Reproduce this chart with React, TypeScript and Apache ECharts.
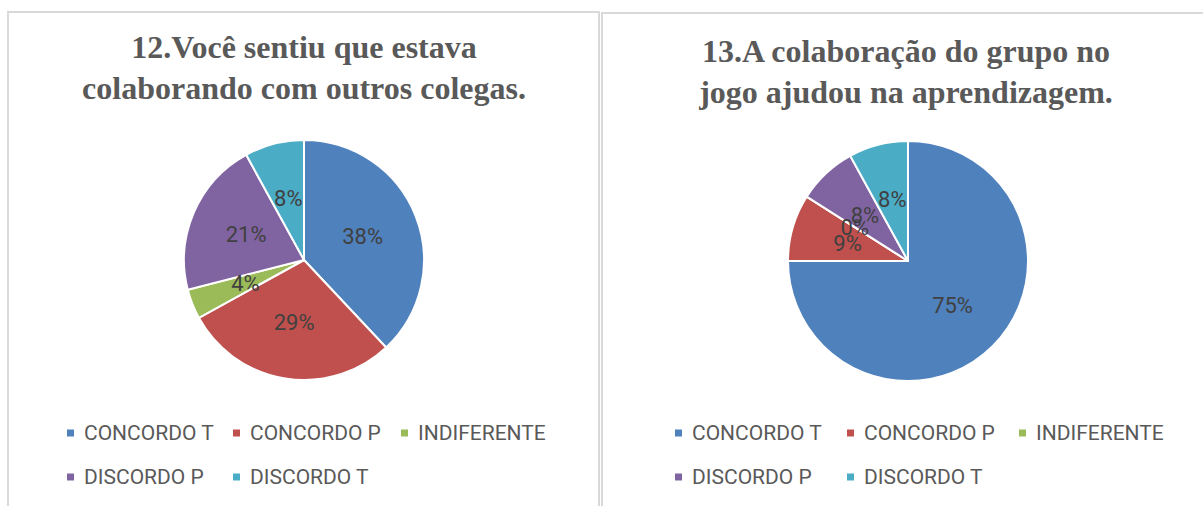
import React, { useEffect, useRef } from "react";
import * as echarts from "echarts";

const categories = ["CONCORDO T", "CONCORDO P", "INDIFERENTE", "DISCORDO P", "DISCORDO T"];
const colors = ["#4F81BD", "#C0504D", "#9BBB59", "#8064A2", "#4BACC6"];
const valuesQ12 = [38, 29, 4, 21, 8];
const valuesQ13 = [75, 9, 0, 8, 8];
const titleQ12 = "12.Você sentiu que estava\ncolaborando com outros colegas.";
const titleQ13 = "13.A colaboração do grupo no\njogo ajudou na aprendizagem.";

const SANS = "Roboto, 'Open Sans', sans-serif";
const SERIF = "'Liberation Serif', 'Times New Roman', serif";

// legend item slots: [column x, row y] for left and right panels
const legendColsLeft = [65, 231, 399];
const legendColsRight = [673, 845, 1017];
const legendRows = [421, 465];

function makeLegendItem(left: number, top: number, name: string) {
  return {
    left,
    top,
    padding: 0,
    orient: "horizontal",
    icon: "rect",
    itemWidth: 9,
    itemHeight: 9,
    selectedMode: false,
    data: [name],
    textStyle: {
      fontFamily: SANS,
      fontSize: 21,
      color: "#595959",
      padding: [0, 0, 0, 4],
      lineHeight: 24,
    },
  };
}

function makeLegends(cols: number[]) {
  return categories.map((c, i) => {
    const row = i < 3 ? 0 : 1;
    const col = i < 3 ? i : i - 3;
    return makeLegendItem(cols[col], legendRows[row], c);
  });
}

function makePie(name: string, values: number[], center: [number, number]) {
  return {
    type: "pie",
    name,
    center,
    radius: 120,
    startAngle: 90,
    clockwise: true,
    silent: true,
    avoidLabelOverlap: false,
    minShowLabelAngle: -1,
    labelLayout: { hideOverlap: false },
    itemStyle: { borderColor: "#ffffff", borderWidth: 2 },
    label: {
      show: true,
      position: "inside",
      formatter: (p: any) => `${values[p.dataIndex]}%`,
      fontFamily: SANS,
      fontSize: 22,
      color: "#404040",
    },
    labelLine: { show: false },
    emphasis: { disabled: true },
    data: categories.map((c, i) => ({
      name: c,
      value: values[i],
      itemStyle: { color: colors[i] },
      label: { show: true },
    })),
  };
}

export default function App() {
  const ref = useRef<HTMLDivElement>(null);
  useEffect(() => {
    document.body.style.margin = "0";
    const chart = echarts.init(ref.current!, undefined, { renderer: "svg" });
    chart.setOption({
      animation: false,
      backgroundColor: "#ffffff",
      title: [
        {
          text: titleQ12,
          left: 304,
          top: 26,
          textAlign: "center",
          padding: 0,
          textStyle: { fontFamily: SERIF, fontWeight: "bold", fontSize: 32, lineHeight: 41, color: "#595959" },
        },
        {
          text: titleQ13,
          left: 906,
          top: 30,
          textAlign: "center",
          padding: 0,
          textStyle: { fontFamily: SERIF, fontWeight: "bold", fontSize: 32, lineHeight: 41, color: "#595959" },
        },
      ],
      legend: [...makeLegends(legendColsLeft), ...makeLegends(legendColsRight)],
      graphic: [
        {
          type: "rect",
          shape: { x: 8, y: 12, width: 591, height: 520 },
          style: { fill: "none", stroke: "#d9d9d9", lineWidth: 2 },
          silent: true,
        },
        {
          type: "rect",
          shape: { x: 602, y: 13, width: 640, height: 520 },
          style: { fill: "none", stroke: "#d9d9d9", lineWidth: 2 },
          silent: true,
        },
      ],
      series: [makePie("Q12", valuesQ12, [304, 260]), makePie("Q13", valuesQ13, [908, 261])],
    });
    return () => chart.dispose();
  }, []);
  return <div ref={ref} style={{ position: "absolute", left: 0, top: 0, width: 1203, height: 506 }} />;
}
